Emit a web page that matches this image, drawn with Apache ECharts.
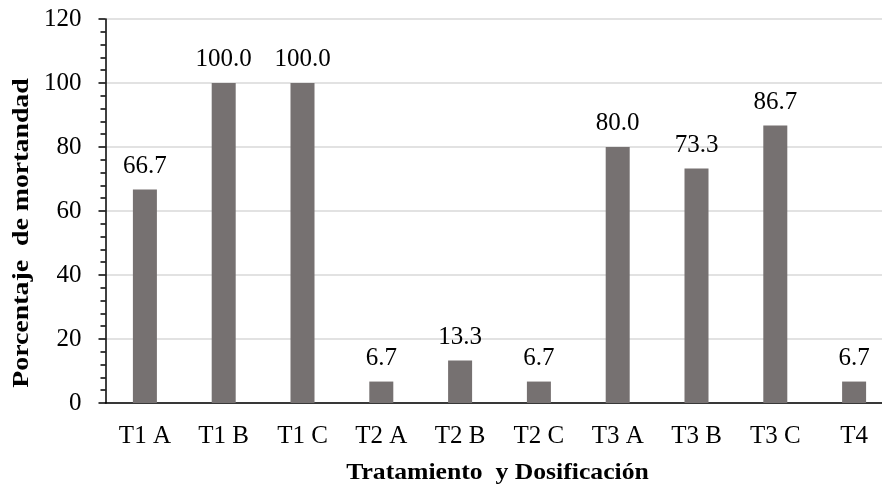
<!DOCTYPE html>
<html>
<head>
<meta charset="utf-8">
<script src="https://cdn.jsdelivr.net/npm/echarts@6/dist/echarts.min.js"></script>
<style>
html, body { margin: 0; padding: 0; background: #fff; overflow: hidden; }
#chart { width: 882px; height: 486px; }
</style>
</head>
<body>
<div id="chart"></div>
<script>
// Categories and mortality percentages
const categories = ['T1 A', 'T1 B', 'T1 C', 'T2 A', 'T2 B', 'T2 C', 'T3 A', 'T3 B', 'T3 C', 'T4'];
const mortality = [66.7, 100.0, 100.0, 6.7, 13.3, 6.7, 80.0, 73.3, 86.7, 6.7];
const yTicks = [0, 20, 40, 60, 80, 100, 120];

const yTitle = 'Porcentaje  de mortandad';
const xTitle = 'Tratamiento  y Dosificación';

const FONT = '"Liberation Serif", "Times New Roman", serif';

const chart = echarts.init(document.getElementById('chart'), null, { renderer: 'canvas' });

chart.setOption({
  animation: false,
  backgroundColor: '#ffffff',
  // plot area runs slightly past the right edge of the canvas
  grid: { left: 105.5, top: 19, width: 788, bottom: 83, containLabel: false, outerBoundsMode: 'none' },
  xAxis: {
    type: 'category',
    data: categories,
    axisLine: { show: true, lineStyle: { color: '#000', width: 1.5 } },
    axisTick: { show: false },
    axisLabel: { color: '#000', fontFamily: FONT, fontSize: 25, margin: 21 },
    splitLine: { show: false }
  },
  yAxis: {
    type: 'value',
    min: yTicks[0],
    max: yTicks[yTicks.length - 1],
    interval: 20,
    axisLine: { show: true, lineStyle: { color: '#000', width: 1.5 } },
    axisTick: { show: true, inside: false, length: 7, lineStyle: { color: '#000', width: 1.5 } },
    minorTick: { show: true, splitNumber: 5, length: 5, lineStyle: { color: '#000', width: 1.5 } },
    axisLabel: { color: '#000', fontFamily: FONT, fontSize: 25, margin: 24 },
    splitLine: { show: true, lineStyle: { color: '#d9d9d9', width: 1.5 } }
  },
  series: [{
    type: 'bar',
    data: mortality,
    barWidth: 24,
    itemStyle: { color: '#767171' },
    label: {
      show: true,
      position: 'top',
      distance: 11,
      color: '#000',
      fontFamily: FONT,
      fontSize: 25,
      formatter: p => p.value.toFixed(1)
    }
  }],
  graphic: [
    {
      type: 'text',
      x: 22, y: 233,
      rotation: Math.PI / 2,
      scaleX: 1.16,
      style: {
        text: yTitle,
        font: 'bold 24px ' + FONT,
        fill: '#000',
        align: 'center',
        verticalAlign: 'middle'
      }
    },
    {
      type: 'text',
      x: 497.5, y: 473,
      scaleX: 1.07,
      style: {
        text: xTitle,
        font: 'bold 24px ' + FONT,
        fill: '#000',
        align: 'center',
        verticalAlign: 'middle'
      }
    }
  ]
});
</script>
</body>
</html>
